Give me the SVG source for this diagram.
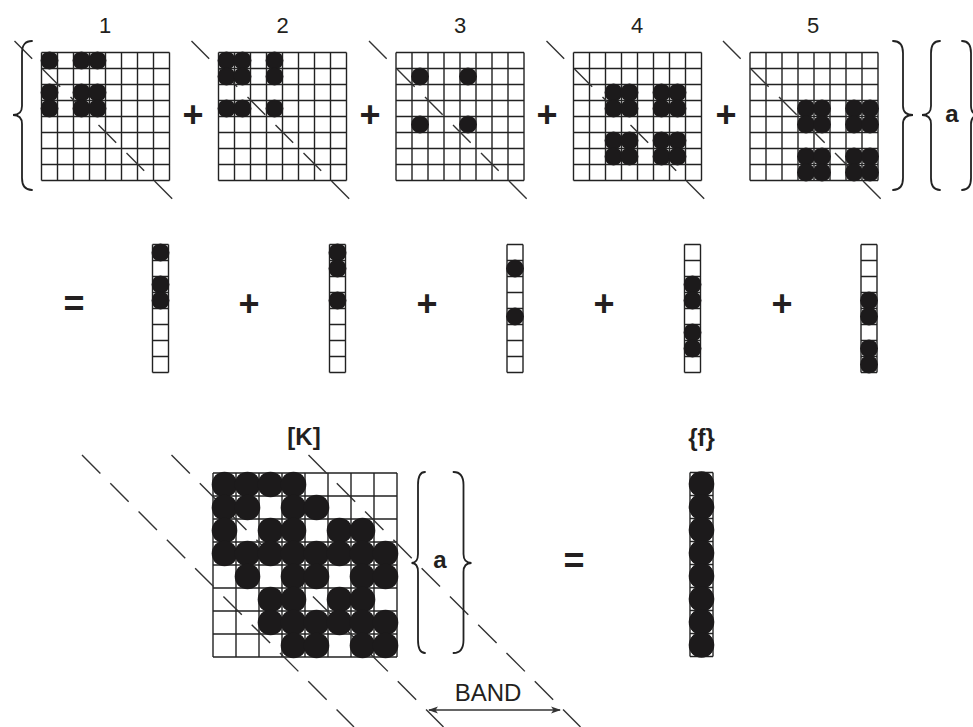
<svg xmlns="http://www.w3.org/2000/svg" xmlns:xlink="http://www.w3.org/1999/xlink" width="973" height="727" viewBox="0 0 973 727">
<style>
.grid{fill:none;stroke:#222;stroke-width:1.4}
.dl{stroke:#333;stroke-width:1.4;stroke-dasharray:25 14.6;fill:none}
.dk{stroke:#333;stroke-width:1.4;stroke-dasharray:26 14;fill:none}
.dot{fill:#1c1a1b}
.br{fill:none;stroke:#222;stroke-width:1.8;stroke-linecap:round}
.num{font-family:"Liberation Sans",Arial,sans-serif;font-size:22px;fill:#231f20;text-anchor:middle}
.op{font-family:"Liberation Sans",Arial,sans-serif;font-size:36px;font-weight:bold;fill:#231f20;text-anchor:middle}
.lb{font-family:"Liberation Sans",Arial,sans-serif;font-size:24px;font-weight:bold;fill:#231f20;text-anchor:middle}
.band{font-family:"Liberation Sans",Arial,sans-serif;font-size:24px;fill:#231f20;text-anchor:middle}
.arr{stroke:#333;stroke-width:1.5;fill:none}
</style>
<defs>
<path id="g8" d="M0 0H128M0 16H128M0 32H128M0 48H128M0 64H128M0 80H128M0 96H128M0 112H128M0 128H128M0 0V128M16 0V128M32 0V128M48 0V128M64 0V128M80 0V128M96 0V128M112 0V128M128 0V128"/>
<path id="v8" d="M0 0H16M0 16H16M0 32H16M0 48H16M0 64H16M0 80H16M0 96H16M0 112H16M0 128H16M0 0V128M16 0V128"/>
<path id="gk" d="M0 0H184M0 23H184M0 46H184M0 69H184M0 92H184M0 115H184M0 138H184M0 161H184M0 184H184M0 0V184M23 0V184M46 0V184M69 0V184M92 0V184M115 0V184M138 0V184M161 0V184M184 0V184"/>
<path id="vk" d="M0 0H23M0 23H23M0 46H23M0 69H23M0 92H23M0 115H23M0 138H23M0 161H23M0 184H23M0 0V184M23 0V184"/>
<g id="d" class="dot"><rect x="-7.4" y="-7.4" width="14.8" height="14.8" rx="4"/><circle r="8.9"/></g>
<g id="D" class="dot"><rect x="-10.8" y="-10.8" width="21.6" height="21.6" rx="6"/><circle r="12.8"/></g>
<marker id="ah" viewBox="0 0 10 8" refX="9" refY="4" markerWidth="10" markerHeight="8" markerUnits="userSpaceOnUse" orient="auto-start-reverse">
<path d="M0 0.5L10 4L0 7.5L2.5 4z" fill="#333"/>
</marker>
</defs>

<!-- Row 1: element matrices -->
<g id="m1">
<text class="num" x="105" y="33">1</text>
<use xlink:href="#g8" class="grid" x="41.5" y="52.5"/>
<line class="dl" x1="14.5" y1="41" x2="173.5" y2="200"/>
<g transform="translate(41.5,52.5)">
<use xlink:href="#d" x="8" y="8"/><use xlink:href="#d" x="40" y="8"/><use xlink:href="#d" x="56" y="8"/>
<use xlink:href="#d" x="8" y="40"/><use xlink:href="#d" x="40" y="40"/><use xlink:href="#d" x="56" y="40"/>
<use xlink:href="#d" x="8" y="56"/><use xlink:href="#d" x="40" y="56"/><use xlink:href="#d" x="56" y="56"/>
</g>
</g>
<g id="m2">
<text class="num" x="282.5" y="33">2</text>
<use xlink:href="#g8" class="grid" x="218.5" y="52.5"/>
<line class="dl" x1="191.5" y1="41" x2="350.5" y2="200"/>
<g transform="translate(218.5,52.5)">
<use xlink:href="#d" x="8" y="8"/><use xlink:href="#d" x="24" y="8"/><use xlink:href="#d" x="56" y="8"/>
<use xlink:href="#d" x="8" y="24"/><use xlink:href="#d" x="24" y="24"/><use xlink:href="#d" x="56" y="24"/>
<use xlink:href="#d" x="8" y="56"/><use xlink:href="#d" x="24" y="56"/><use xlink:href="#d" x="56" y="56"/>
</g>
</g>
<g id="m3">
<text class="num" x="460" y="33">3</text>
<use xlink:href="#g8" class="grid" x="396" y="52.5"/>
<line class="dl" x1="369" y1="41" x2="528" y2="200"/>
<g class="dot" transform="translate(396,52.5)">
<circle cx="24" cy="24" r="8.9"/><circle cx="72" cy="24" r="8.9"/>
<circle cx="24" cy="72" r="8.9"/><circle cx="72" cy="72" r="8.9"/>
</g>
</g>
<g id="m4">
<text class="num" x="637" y="33">4</text>
<use xlink:href="#g8" class="grid" x="573.5" y="52.5"/>
<line class="dl" x1="546.5" y1="41" x2="705.5" y2="200"/>
<g transform="translate(573.5,52.5)">
<use xlink:href="#d" x="40" y="40"/><use xlink:href="#d" x="56" y="40"/><use xlink:href="#d" x="88" y="40"/><use xlink:href="#d" x="104" y="40"/>
<use xlink:href="#d" x="40" y="56"/><use xlink:href="#d" x="56" y="56"/><use xlink:href="#d" x="88" y="56"/><use xlink:href="#d" x="104" y="56"/>
<use xlink:href="#d" x="40" y="88"/><use xlink:href="#d" x="56" y="88"/><use xlink:href="#d" x="88" y="88"/><use xlink:href="#d" x="104" y="88"/>
<use xlink:href="#d" x="40" y="104"/><use xlink:href="#d" x="56" y="104"/><use xlink:href="#d" x="88" y="104"/><use xlink:href="#d" x="104" y="104"/>
</g>
</g>
<g id="m5">
<text class="num" x="813" y="33">5</text>
<use xlink:href="#g8" class="grid" x="750" y="52.5"/>
<line class="dl" x1="723" y1="41" x2="882" y2="200"/>
<g transform="translate(750,52.5)">
<use xlink:href="#d" x="56" y="56"/><use xlink:href="#d" x="72" y="56"/><use xlink:href="#d" x="104" y="56"/><use xlink:href="#d" x="120" y="56"/>
<use xlink:href="#d" x="56" y="72"/><use xlink:href="#d" x="72" y="72"/><use xlink:href="#d" x="104" y="72"/><use xlink:href="#d" x="120" y="72"/>
<use xlink:href="#d" x="56" y="104"/><use xlink:href="#d" x="72" y="104"/><use xlink:href="#d" x="104" y="104"/><use xlink:href="#d" x="120" y="104"/>
<use xlink:href="#d" x="56" y="120"/><use xlink:href="#d" x="72" y="120"/><use xlink:href="#d" x="104" y="120"/><use xlink:href="#d" x="120" y="120"/>
</g>
</g>
<g id="ops1">
<text class="op" x="193" y="127">+</text>
<text class="op" x="370" y="127">+</text>
<text class="op" x="547" y="127">+</text>
<text class="op" x="726" y="127">+</text>
</g>
<g id="braces1">
<path class="br" d="M32 41Q22 41 22 53L22 106Q22 115 13 115Q22 115 22 124L22 178Q22 190 32 190"/>
<path class="br" d="M893 41Q903 41 903 53L903 106Q903 115 913 115Q903 115 903 124L903 178Q903 190 893 190"/>
<path class="br" d="M940 41Q931 41 931 53L931 106Q931 115 922 115Q931 115 931 124L931 178Q931 190 940 190"/>
<path class="br" d="M962 41Q971 41 971 53L971 106Q971 115 980 115Q971 115 971 124L971 178Q971 190 962 190"/>
<text class="lb" x="952" y="122">a</text>
</g>

<!-- Row 2: element vectors -->
<g id="eq2"><text class="op" x="74" y="316">=</text></g>
<g id="v1">
<use xlink:href="#v8" class="grid" x="152.5" y="244.5"/>
<g transform="translate(152.5,244.5)">
<use xlink:href="#d" x="8" y="8"/><use xlink:href="#d" x="8" y="40"/><use xlink:href="#d" x="8" y="56"/>
</g>
</g>
<g id="v2">
<use xlink:href="#v8" class="grid" x="329.5" y="244.5"/>
<g transform="translate(329.5,244.5)">
<use xlink:href="#d" x="8" y="8"/><use xlink:href="#d" x="8" y="24"/><use xlink:href="#d" x="8" y="56"/>
</g>
</g>
<g id="v3">
<use xlink:href="#v8" class="grid" x="507" y="244.5"/>
<g class="dot" transform="translate(507,244.5)">
<circle cx="8" cy="24" r="8.9"/><circle cx="8" cy="72" r="8.9"/>
</g>
</g>
<g id="v4">
<use xlink:href="#v8" class="grid" x="684.5" y="244.5"/>
<g transform="translate(684.5,244.5)">
<use xlink:href="#d" x="8" y="40"/><use xlink:href="#d" x="8" y="56"/><use xlink:href="#d" x="8" y="88"/><use xlink:href="#d" x="8" y="104"/>
</g>
</g>
<g id="v5">
<use xlink:href="#v8" class="grid" x="861" y="244.5"/>
<g transform="translate(861,244.5)">
<use xlink:href="#d" x="8" y="56"/><use xlink:href="#d" x="8" y="72"/><use xlink:href="#d" x="8" y="104"/><use xlink:href="#d" x="8" y="120"/>
</g>
</g>
<g id="ops2">
<text class="op" x="249" y="316">+</text>
<text class="op" x="427" y="316">+</text>
<text class="op" x="604" y="316">+</text>
<text class="op" x="782" y="316">+</text>
</g>

<!-- Row 3: global system -->
<g id="K">
<text class="lb" x="304" y="445">[K]</text>
<use xlink:href="#gk" class="grid" x="213" y="473"/>
<line class="dk" x1="82" y1="455" x2="354" y2="727"/>
<line class="dk" x1="171.5" y1="455" x2="443.5" y2="727"/>
<line class="dk" x1="308.5" y1="455" x2="580.5" y2="727"/>
<g transform="translate(213,473)">
<use xlink:href="#D" x="11.5" y="11.5"/><use xlink:href="#D" x="34.5" y="11.5"/><use xlink:href="#D" x="57.5" y="11.5"/><use xlink:href="#D" x="80.5" y="11.5"/>
<use xlink:href="#D" x="11.5" y="34.5"/><use xlink:href="#D" x="34.5" y="34.5"/><use xlink:href="#D" x="80.5" y="34.5"/><use xlink:href="#D" x="103.5" y="34.5"/>
<use xlink:href="#D" x="11.5" y="57.5"/><use xlink:href="#D" x="57.5" y="57.5"/><use xlink:href="#D" x="80.5" y="57.5"/><use xlink:href="#D" x="126.5" y="57.5"/><use xlink:href="#D" x="149.5" y="57.5"/>
<use xlink:href="#D" x="11.5" y="80.5"/><use xlink:href="#D" x="34.5" y="80.5"/><use xlink:href="#D" x="57.5" y="80.5"/><use xlink:href="#D" x="80.5" y="80.5"/><use xlink:href="#D" x="103.5" y="80.5"/><use xlink:href="#D" x="126.5" y="80.5"/><use xlink:href="#D" x="149.5" y="80.5"/><use xlink:href="#D" x="172.5" y="80.5"/>
<use xlink:href="#D" x="34.5" y="103.5"/><use xlink:href="#D" x="80.5" y="103.5"/><use xlink:href="#D" x="103.5" y="103.5"/><use xlink:href="#D" x="149.5" y="103.5"/><use xlink:href="#D" x="172.5" y="103.5"/>
<use xlink:href="#D" x="57.5" y="126.5"/><use xlink:href="#D" x="80.5" y="126.5"/><use xlink:href="#D" x="126.5" y="126.5"/><use xlink:href="#D" x="149.5" y="126.5"/>
<use xlink:href="#D" x="57.5" y="149.5"/><use xlink:href="#D" x="80.5" y="149.5"/><use xlink:href="#D" x="103.5" y="149.5"/><use xlink:href="#D" x="126.5" y="149.5"/><use xlink:href="#D" x="149.5" y="149.5"/><use xlink:href="#D" x="172.5" y="149.5"/>
<use xlink:href="#D" x="80.5" y="172.5"/><use xlink:href="#D" x="103.5" y="172.5"/><use xlink:href="#D" x="149.5" y="172.5"/><use xlink:href="#D" x="172.5" y="172.5"/>
</g>
</g>
<g id="a3">
<path class="br" d="M425 472Q418 472 418 485L418 554Q418 563 411.5 563Q418 563 418 572L418 640Q418 653 425 653"/>
<path class="br" d="M453.5 472Q463.5 472 463.5 485L463.5 554Q463.5 563 471.5 563Q463.5 563 463.5 572L463.5 640Q463.5 653 453.5 653"/>
<text class="lb" x="440" y="568">a</text>
</g>
<g id="eq3"><text class="op" x="574" y="573">=</text></g>
<g id="f">
<text class="lb" x="701.5" y="446">{f}</text>
<use xlink:href="#vk" class="grid" x="690" y="472.5"/>
<g transform="translate(690,472.5)">
<use xlink:href="#D" x="11.5" y="11.5"/><use xlink:href="#D" x="11.5" y="34.5"/><use xlink:href="#D" x="11.5" y="57.5"/><use xlink:href="#D" x="11.5" y="80.5"/>
<use xlink:href="#D" x="11.5" y="103.5"/><use xlink:href="#D" x="11.5" y="126.5"/><use xlink:href="#D" x="11.5" y="149.5"/><use xlink:href="#D" x="11.5" y="172.5"/>
</g>
</g>
<g id="connectors">
<line class="arr" x1="429" y1="710" x2="560" y2="710" marker-start="url(#ah)" marker-end="url(#ah)"/>
<text class="band" x="488" y="701">BAND</text>
</g>
</svg>
